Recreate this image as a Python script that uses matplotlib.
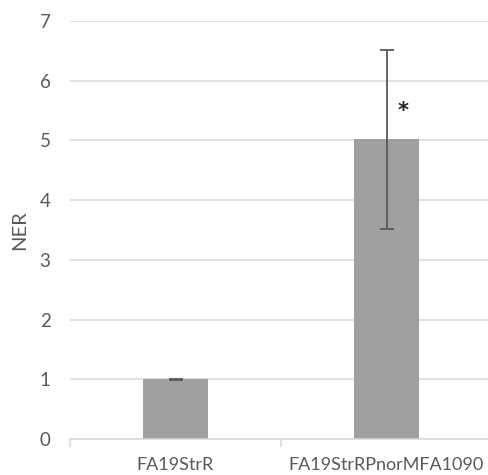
import numpy as np
import matplotlib.pyplot as plt

# data
strains = ['FA19StrR', 'FA19StrRPnorMFA1090']
ner = [1.0, 5.02]
ner_err = [0.01, 1.5]
star_y = 5.5

plt.rcParams['font.family'] = ['Lato', 'DejaVu Sans']

fig = plt.figure(figsize=(4.88, 4.75), dpi=100)
ax = fig.add_axes([70/488, 1-439/475, 422/488, 418/475])

x = np.arange(len(strains))
ax.bar(x, ner, width=0.31, color='#a0a0a0', zorder=2)
ax.errorbar(x, ner, yerr=ner_err, fmt='none', ecolor='#595959',
            elinewidth=1.3, capsize=5, capthick=1.3, zorder=3)
ax.text(x[1] + 0.08, star_y, '*', fontsize=15, ha='center', va='center',
        fontweight='bold', color='#222222', family='DejaVu Sans')

ax.set_xlim(-0.5, 1.5)
ax.set_ylim(0, 7)
ax.set_yticks(range(0, 8))
ax.set_xticks(x)
ax.set_xticklabels(strains)
ax.set_xticks([-0.5, 0.5, 1.5], minor=True)

ax.grid(axis='y', color='#d9d9d9', linewidth=1.1, zorder=0)
ax.set_axisbelow(True)
for s in ['top', 'right', 'left']:
    ax.spines[s].set_visible(False)
ax.spines['bottom'].set_color('#d9d9d9')
ax.spines['bottom'].set_linewidth(1.1)

ax.tick_params(axis='y', length=0, pad=14, labelsize=13.5, labelcolor='#595959')
ax.tick_params(axis='x', which='major', length=0, pad=13, labelsize=13,
               labelcolor='#595959')
ax.tick_params(axis='x', which='minor', length=6, color='#d9d9d9', width=1.1)

ax.set_ylabel('NER', fontsize=14.5, color='#595959', labelpad=8)

fig.savefig('out.png', dpi=100)
